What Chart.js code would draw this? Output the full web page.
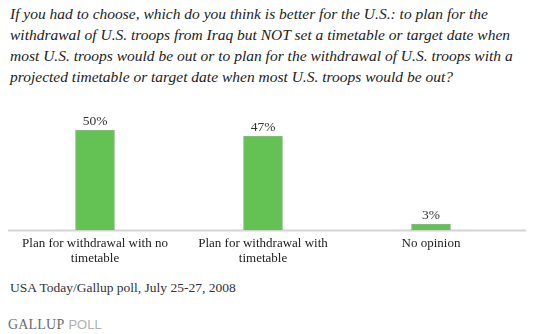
<!DOCTYPE html>
<html>
<head>
<meta charset="utf-8">
<script src="https://cdn.jsdelivr.net/npm/chart.js@4"></script>
<style>
    body { margin: 0; background: #fff; width: 533px; height: 334px; position: relative; overflow: hidden; }
    .question {
        position: absolute; left: 10px; top: 3px;
        font-family: "Liberation Serif", serif; font-style: italic; font-size: 15.5px;
        line-height: 21px; color: #222; white-space: nowrap;
    }
    .source {
        position: absolute; left: 10px; top: 280px;
        font-family: "Liberation Serif", serif; font-size: 13.5px; color: #333; white-space: nowrap;
    }
    .brand { position: absolute; left: 8px; top: 315px; white-space: nowrap; }
    .brand .g { font-family: "Liberation Serif", serif; font-size: 14px; color: #6b6b6b; letter-spacing: 0.2px; }
    .brand .p { font-family: "Liberation Sans", sans-serif; font-size: 13px; color: #b0b0b0; }
    #chart-box { position: absolute; left: 0; top: 100px; width: 533px; height: 170px; }
</style>
</head>
<body>
<div class="question">
    If you had to choose, which do you think is better for the U.S.: to plan for the<br>
    withdrawal of U.S. troops from Iraq but NOT set a timetable or target date when<br>
    most U.S. troops would be out or to plan for the withdrawal of U.S. troops with a<br>
    projected timetable or target date when most U.S. troops would be out?
</div>
<div id="chart-box"><canvas id="poll-chart"></canvas></div>
<div class="source">USA Today/Gallup poll, July 25-27, 2008</div>
<div class="brand"><span class="g">GALLUP</span> <span class="p">POLL</span></div>

<script>
const categories = [
    ['Plan for withdrawal with no', 'timetable'],
    ['Plan for withdrawal with', 'timetable'],
    'No opinion'
];
const percents = [50, 47, 3];

const serifFamily = '"Liberation Serif", serif';

// percentage text above each bar
const valueLabels = {
    id: 'valueLabels',
    afterDatasetsDraw(chart) {
        const ctx = chart.ctx;
        const meta = chart.getDatasetMeta(0);
        ctx.save();
        ctx.font = '13.5px ' + serifFamily;
        ctx.fillStyle = '#333';
        ctx.textAlign = 'center';
        ctx.textBaseline = 'bottom';
        meta.data.forEach((bar, i) => {
            ctx.fillText(percents[i] + '%', bar.x, bar.y - 2);
        });
        ctx.restore();
    }
};

// baseline runs a little past the plot area on both sides
const baseLine = {
    id: 'baseLine',
    beforeDatasetsDraw(chart) {
        const ctx = chart.ctx;
        const y = Math.round(chart.scales.y.getPixelForValue(0)) + 0.5;
        ctx.save();
        ctx.strokeStyle = '#d4d4d4';
        ctx.lineWidth = 2;
        ctx.beginPath();
        ctx.moveTo(8, y);
        ctx.lineTo(526, y);
        ctx.stroke();
        ctx.restore();
    }
};

new Chart(document.getElementById('poll-chart'), {
    type: 'bar',
    data: {
        labels: categories,
        datasets: [{
            data: percents,
            backgroundColor: '#63c253',
            borderColor: '#8fb886',
            borderWidth: { top: 1, left: 1, right: 1, bottom: 0 },
            barThickness: 39
        }]
    },
    options: {
        responsive: true,
        maintainAspectRatio: false,
        animation: false,
        layout: { padding: { top: 20, left: 11, right: 18, bottom: 0 } },
        plugins: {
            legend: { display: false },
            tooltip: { enabled: false }
        },
        scales: {
            x: {
                grid: { display: false, drawTicks: false },
                border: { display: false },
                ticks: {
                    color: '#222',
                    font: { family: serifFamily, size: 13, lineHeight: 1.15 },
                    padding: 6,
                    maxRotation: 0,
                    autoSkip: false
                },
                afterFit(scale) { scale.height = 40; }
            },
            y: {
                display: false,
                min: 0,
                max: 55
            }
        }
    },
    plugins: [baseLine, valueLabels]
});
</script>
</body>
</html>
